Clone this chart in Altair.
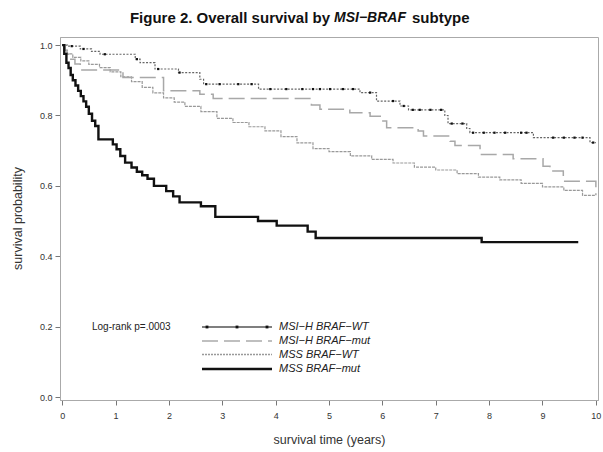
import altair as alt
import pandas as pd

# ---------------- data ----------------
msih_wt_t = [0, 0.1, 0.34, 0.55, 0.71, 1.37, 1.46, 1.74, 2.18, 2.58, 2.65, 3.68,
             5.58, 5.89, 6.33, 6.49, 7.17, 7.23, 7.58, 7.64, 8.83, 9.89, 10.0]
msih_wt_s = [1.0, 0.997, 0.989, 0.982, 0.974, 0.96, 0.95, 0.932, 0.922, 0.903, 0.889, 0.875,
             0.865, 0.841, 0.827, 0.816, 0.80, 0.777, 0.763, 0.751, 0.737, 0.723, 0.723]
msih_wt_censor = [0.18, 0.4, 0.8, 1.4, 1.8, 2.2, 2.7, 2.95, 3.3, 3.55, 3.9, 4.2, 4.5, 4.7,
                  4.83, 5.02, 5.26, 5.45, 5.77, 6.2, 6.4, 6.57, 6.7, 6.9, 7.1, 7.3, 7.5,
                  7.7, 7.9, 8.1, 8.3, 8.6, 8.7, 9.2, 9.4, 9.6, 9.75, 9.95]

msih_mut_t = [0, 0.05, 0.09, 0.12, 0.24, 0.34, 1.14, 1.9, 2.58, 2.83, 4.67, 4.83, 5.39,
              5.77, 5.96, 6.08, 6.67, 6.77, 7.27, 7.36, 7.83, 8.45, 9.01, 9.14, 9.39, 10.0]
msih_mut_s = [1.0, 0.985, 0.974, 0.96, 0.946, 0.929, 0.908, 0.870, 0.86, 0.848, 0.830, 0.818,
              0.808, 0.798, 0.784, 0.765, 0.756, 0.742, 0.727, 0.715, 0.689, 0.677, 0.656,
              0.642, 0.613, 0.573]

mss_wt_t = [0, 0.05, 0.1, 0.2, 0.35, 0.5, 0.7, 0.9, 1.1, 1.3, 1.5, 1.7, 1.9, 2.1, 2.3,
            2.6, 2.9, 3.2, 3.5, 3.8, 4.1, 4.4, 4.7, 5.0, 5.4, 5.8, 6.2, 6.6, 7.0, 7.4,
            7.8, 8.2, 8.6, 9.0, 9.4, 9.75, 10.0]
mss_wt_s = [1.0, 0.985, 0.975, 0.965, 0.955, 0.945, 0.936, 0.924, 0.910, 0.896, 0.880,
            0.864, 0.850, 0.838, 0.826, 0.811, 0.792, 0.780, 0.768, 0.756, 0.740, 0.722,
            0.706, 0.697, 0.685, 0.675, 0.665, 0.653, 0.645, 0.635, 0.625, 0.617, 0.607,
            0.597, 0.587, 0.573, 0.573]

mss_mut_t = [0, 0.04, 0.08, 0.12, 0.16, 0.2, 0.25, 0.3, 0.35, 0.4, 0.45, 0.5, 0.56, 0.62,
             0.68, 0.95, 1.02, 1.09, 1.18, 1.3, 1.4, 1.5, 1.6, 1.72, 1.95, 2.08, 2.2, 2.6,
             2.87, 3.67, 4.02, 4.6, 4.75, 7.86, 9.67]
mss_mut_s = [1.0, 0.975, 0.95, 0.935, 0.915, 0.90, 0.885, 0.87, 0.855, 0.84, 0.825, 0.805,
             0.785, 0.77, 0.732, 0.718, 0.704, 0.685, 0.666, 0.652, 0.64, 0.63, 0.62, 0.60,
             0.585, 0.57, 0.553, 0.542, 0.512, 0.50, 0.487, 0.47, 0.452, 0.44, 0.44]

x_ticks = [0, 1, 2, 3, 4, 5, 6, 7, 8, 9, 10]
y_ticks = [0.0, 0.2, 0.4, 0.6, 0.8, 1.0]

legend_labels = ["MSI\u2212H BRAF\u2212WT", "MSI\u2212H BRAF\u2212mut",
                 "MSS BRAF\u2212WT", "MSS BRAF\u2212mut"]

FONT = "Liberation Sans"


def curve(t, s):
    return pd.DataFrame({"t": t, "s": s})


def step_value(ts, ss, x):
    v = ss[0]
    for ti, si in zip(ts, ss):
        if ti <= x:
            v = si
    return v


censor_df = pd.DataFrame({
    "t": msih_wt_censor,
    "s": [step_value(msih_wt_t, msih_wt_s, c) for c in msih_wt_censor],
})

xscale = alt.Scale(domain=[-0.04, 10.04], nice=False, zero=False)
yscale = alt.Scale(domain=[-0.0085, 1.023], nice=False, zero=False)

xaxis = alt.Axis(values=x_ticks, format="d", grid=False, tickSize=5, labelPadding=6,
                 domainColor="#aaa", tickColor="#777", labelColor="#333",
                 labelFont=FONT, labelFontSize=9, title="survival time (years)",
                 titleFont=FONT, titleFontSize=12.5, titleFontWeight="normal",
                 titleColor="#333", titleX=269, titleY=39, titleBaseline="middle",
                 titleAlign="center")
yaxis = alt.Axis(values=y_ticks, format=".1f", grid=False, tickSize=5, labelPadding=3,
                 domainColor="#aaa", tickColor="#777", labelColor="#333",
                 labelFont=FONT, labelFontSize=9, title="survival probability",
                 titleFont=FONT, titleFontSize=12.5, titleFontWeight="normal",
                 titleColor="#333", titleX=-43, titleY=181, titleAngle=270,
                 titleBaseline="middle", titleAlign="center")

X = alt.X("t:Q", scale=xscale, axis=xaxis)
Y = alt.Y("s:Q", scale=yscale, axis=yaxis)


def line(df, color, width, dash=None):
    kw = dict(interpolate="step-after", color=color, strokeWidth=width, clip=True)
    if dash:
        kw["strokeDash"] = dash
    return alt.Chart(df).mark_line(**kw).encode(x=X, y=Y)


l_mss_wt = line(curve(mss_wt_t, mss_wt_s), "#999", 1.2, [3, 1])
l_msih_mut = line(curve(msih_mut_t, msih_mut_s), "#a8a8a8", 1.5, [16, 6])
l_msih_wt = line(curve(msih_wt_t, msih_wt_s), "#666", 1.2, [2, 1.5])
l_mss_mut = line(curve(mss_mut_t, mss_mut_s), "#111", 2.4)
censor = alt.Chart(censor_df).mark_point(shape="square", filled=True, size=5,
                                          color="#111", opacity=1).encode(x=X, y=Y)

# ---------------- legend (drawn inside plot) ----------------
leg_y = [290, 304, 317.5, 332]
leg_x1, leg_x2 = 142, 212
leg_styles = [
    dict(color="#555", strokeWidth=1.3),
    dict(color="#aaa", strokeWidth=1.5, strokeDash=[16, 6]),
    dict(color="#999", strokeWidth=1.5, strokeDash=[2, 1]),
    dict(color="#111", strokeWidth=2.6),
]
one = pd.DataFrame({"k": [0]})
legend_layers = []
for yy, lab, st in zip(leg_y, legend_labels, leg_styles):
    legend_layers.append(
        alt.Chart(one).mark_rule(**st).encode(
            x=alt.value(leg_x1), x2=alt.value(leg_x2), y=alt.value(yy)))
    legend_layers.append(
        alt.Chart(pd.DataFrame({"label": [lab]})).mark_text(
            align="left", baseline="middle", font=FONT, fontSize=11,
            fontStyle="italic", color="#222").encode(
            x=alt.value(219), y=alt.value(yy), text="label:N"))
for mx in [147, 177, 207]:
    legend_layers.append(
        alt.Chart(one).mark_point(shape="square", filled=True, size=8, color="#111",
                                  opacity=1).encode(x=alt.value(mx), y=alt.value(leg_y[0])))

logrank = alt.Chart(pd.DataFrame({"label": ["Log-rank p=.0003"]})).mark_text(
    align="left", baseline="middle", font=FONT, fontSize=10, color="#222").encode(
    x=alt.value(32), y=alt.value(290), text="label:N")

# ---------------- title ----------------
title_parts = ["Figure 2. Overall survival by", "MSI\u2212BRAF", "subtype"]
t1 = alt.Chart(pd.DataFrame({"label": [title_parts[0]]})).mark_text(
    align="right", baseline="middle", font=FONT, fontSize=15, fontWeight="bold",
    color="#111").encode(x=alt.value(270), y=alt.value(-19), text="label:N")
t2 = alt.Chart(pd.DataFrame({"label": [title_parts[1]]})).mark_text(
    align="left", baseline="middle", font=FONT, fontSize=14, fontWeight="bold",
    fontStyle="italic", color="#111").encode(x=alt.value(274), y=alt.value(-19), text="label:N")
t3 = alt.Chart(pd.DataFrame({"label": [title_parts[2]]})).mark_text(
    align="left", baseline="middle", font=FONT, fontSize=15, fontWeight="bold",
    color="#111").encode(x=alt.value(352), y=alt.value(-19), text="label:N")

chart = alt.layer(
    l_mss_wt, l_msih_mut, l_msih_wt, l_mss_mut, censor, logrank, *legend_layers, t1, t2, t3
).properties(
    width=538, height=363,
    autosize=alt.AutoSizeParams(type="none"),
    padding={"left": 60, "top": 37, "right": 5, "bottom": 52},
    background="white",
).configure_view(stroke="#aaa", strokeWidth=1)

chart.save("out.html", embed_options={"renderer": "svg", "actions": False})
